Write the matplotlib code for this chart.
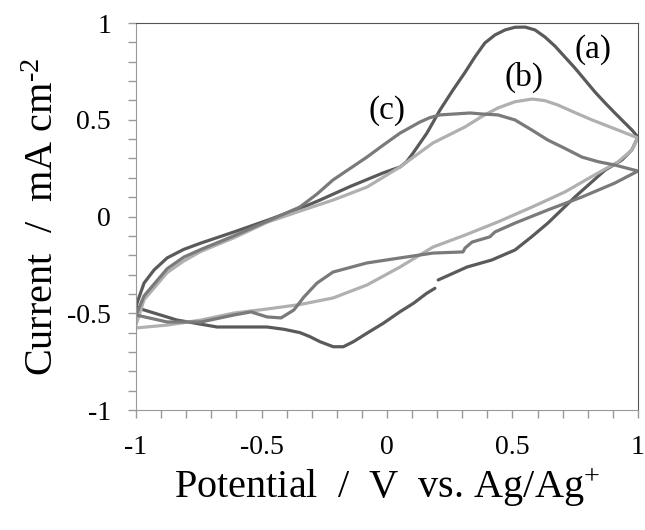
import numpy as np
import matplotlib
matplotlib.use("Agg")
import matplotlib.pyplot as plt
from matplotlib.ticker import MultipleLocator

plt.rcParams['font.family'] = ['Liberation Serif', 'DejaVu Serif']
plt.rcParams['mathtext.default'] = 'regular'
plt.rcParams['axes.unicode_minus'] = False

# 1. Data - forward and reverse scans
a_fwd_x = [-1.0, -0.996, -0.968, -0.928, -0.876, -0.81, -0.741, -0.610, -0.478, -0.331, -0.267,
           -0.147, -0.016, 0.052, 0.078, 0.104, 0.159, 0.211, 0.263, 0.311, 0.351, 0.390, 0.430,
           0.470, 0.510, 0.550, 0.590, 0.629, 0.669, 0.709, 0.749, 0.789, 0.829, 0.869, 0.908,
           0.948, 0.976, 1.0]
a_fwd_y = [-0.47, -0.447, -0.344, -0.276, -0.214, -0.17, -0.137, -0.080, -0.02, 0.05, 0.085,
           0.155, 0.225, 0.256, 0.283, 0.328, 0.431, 0.550, 0.654, 0.745, 0.826, 0.897, 0.938,
           0.964, 0.978, 0.979, 0.964, 0.928, 0.881, 0.824, 0.767, 0.705, 0.643, 0.587, 0.535,
           0.483, 0.447, 0.41]
a_rev_x = [1.0, 0.976, 0.936, 0.869, 0.749, 0.641, 0.577, 0.510, 0.417, 0.319, 0.204, np.nan,
           0.191, 0.158, 0.105, 0.052, -0.015, -0.081, -0.134, -0.174, -0.214, -0.267, -0.307,
           -0.347, -0.410, -0.478, -0.677, -0.837, -0.968, -1.0]
a_rev_y = [0.41, 0.345, 0.292, 0.240, 0.101, -0.034, -0.104, -0.173, -0.225, -0.261, -0.328,
           np.nan, -0.371, -0.397, -0.449, -0.492, -0.552, -0.604, -0.647, -0.673, -0.673,
           -0.647, -0.621, -0.600, -0.583, -0.571, -0.571, -0.535, -0.483, -0.47]

b_fwd_x = [-1.0, -0.968, -0.876, -0.81, -0.741, -0.610, -0.478, -0.331, -0.215, -0.080, 0.052,
           0.183, 0.311, 0.377, 0.442, 0.510, 0.578, 0.629, 0.681, 0.749, 0.817, 0.920, 1.0]
b_fwd_y = [-0.56, -0.43, -0.29, -0.23, -0.18, -0.11, -0.03, 0.035, 0.085, 0.152, 0.256,
           0.380, 0.463, 0.516, 0.561, 0.593, 0.607, 0.599, 0.576, 0.537, 0.499, 0.447, 0.406]
b_rev_x = [1.0, 0.976, 0.920, 0.841, 0.709, 0.578, 0.442, 0.311, 0.183, 0.052, -0.080, -0.215,
           -0.347, -0.478, -0.610, -0.741, -0.876, -1.0]
b_rev_y = [0.406, 0.344, 0.282, 0.225, 0.127, 0.049, -0.028, -0.096, -0.158, -0.261, -0.354,
           -0.421, -0.455, -0.478, -0.499, -0.535, -0.561, -0.576]

c_fwd_x = [-1.0, -0.968, -0.876, -0.81, -0.741, -0.610, -0.478, -0.347, -0.280, -0.215, -0.080,
           -0.015, 0.052, 0.131, 0.171, 0.211, 0.331, 0.377, 0.442, 0.510, 0.577, 0.641, 0.709,
           0.777, 0.842, 0.908, 1.0]
c_fwd_y = [-0.51, -0.41, -0.27, -0.21, -0.17, -0.10, -0.025, 0.049, 0.115, 0.189, 0.307,
           0.369, 0.431, 0.488, 0.511, 0.525, 0.535, 0.530, 0.525, 0.499, 0.447, 0.395, 0.352,
           0.307, 0.283, 0.266, 0.235]
c_rev_x = [1.0, 0.908, 0.777, 0.641, 0.510, 0.430, 0.410, 0.339, 0.311, 0.303, 0.183, 0.052,
           -0.080, -0.215, -0.279, -0.331, -0.371, -0.422, -0.478, -0.542, -0.610, -0.741,
           -0.876, -1.0]
c_rev_y = [0.235, 0.173, 0.101, 0.034, -0.034, -0.080, -0.105, -0.132, -0.163, -0.183, -0.189,
           -0.214, -0.240, -0.287, -0.344, -0.416, -0.483, -0.524, -0.519, -0.493, -0.509,
           -0.545, -0.545, -0.509]

curve_labels = ['(a)', '(b)', '(c)']
label_x = [0.821, 0.546, 0.0]
label_y = [0.860, 0.721, 0.545]

tick_vals = [-1, -0.5, 0, 0.5, 1]
tick_text = ['-1', '-0.5', '0', '0.5', '1']

# 2. Plot
fig = plt.figure(figsize=(6.45, 5.3), dpi=100)
ax = fig.add_axes([0.2109, 0.2264, 0.7782, 0.7302])

lw = 2.3
style = dict(lw=lw, solid_joinstyle='round', solid_capstyle='round')
ax.plot(a_fwd_x + a_rev_x, a_fwd_y + a_rev_y, color='#5a5a5a', **style)
ax.plot(b_fwd_x + b_rev_x, b_fwd_y + b_rev_y, color='#b0b0b0', **style)
ax.plot(c_fwd_x + c_rev_x, c_fwd_y + c_rev_y, color='#7a7a7a', **style)

for lab, lx, ly in zip(curve_labels, label_x, label_y):
    ax.text(lx, ly, lab, fontsize=24, ha='center', va='center')

ax.set_xlim(-1, 1)
ax.set_ylim(-1, 1)
ax.set_xticks(tick_vals)
ax.set_xticklabels(tick_text)
ax.set_yticks(tick_vals)
ax.set_yticklabels(tick_text)
ax.xaxis.set_minor_locator(MultipleLocator(0.1))
ax.yaxis.set_minor_locator(MultipleLocator(0.1))
ax.tick_params(which='both', direction='out', length=6, width=1, color='#999999',
               labelsize=20, pad=12)
ax.tick_params(which='both', top=False, right=False)

for s in ['left', 'bottom']:
    ax.spines[s].set_color('#999999')
for s in ['top', 'right']:
    ax.spines[s].set_color('#555555')

ax.set_xlabel('Potential  /  V  vs. Ag/Ag$^{+}$', fontsize=29, labelpad=5)
ax.set_ylabel('Current  /  mA cm$^{\u20102}$', fontsize=29, labelpad=4)

plt.savefig('out.png', dpi=100)
